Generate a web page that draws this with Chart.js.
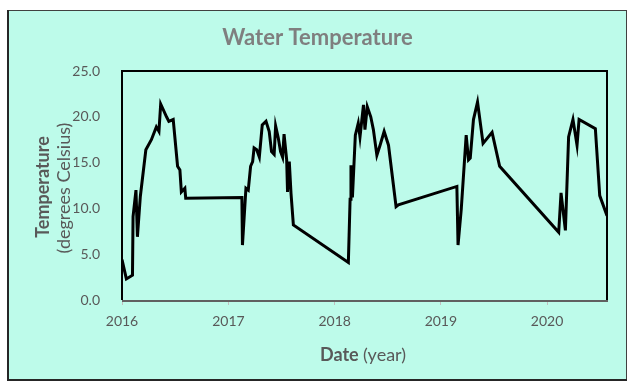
<!DOCTYPE html>
<html>
<head>
<meta charset="utf-8">
<script src="https://cdn.jsdelivr.net/npm/chart.js@4.4.1/dist/chart.umd.min.js"></script>
<style>
  html, body { margin: 0; padding: 0; background: #ffffff; }
  #wrap { position: relative; width: 635px; height: 389px; }
</style>
</head>
<body>
<div id="wrap"><canvas id="chart" width="635" height="389"></canvas></div>
<script>
// sample dates and water temperatures (degrees Celsius)
const dates = [
  '2016-01-01', '2016-01-16', '2016-02-06', '2016-02-08', '2016-02-18', '2016-02-23',
  '2016-03-04', '2016-03-23', '2016-04-11', '2016-04-28', '2016-05-07', '2016-05-13',
  '2016-06-02', '2016-06-10', '2016-06-25', '2016-07-10', '2016-07-18', '2016-07-23',
  '2016-08-04', '2016-08-07',
  '2017-02-16', '2017-02-18', '2017-03-02', '2017-03-10', '2017-03-18', '2017-03-25',
  '2017-03-30', '2017-04-08', '2017-04-17', '2017-04-27', '2017-05-10', '2017-05-21',
  '2017-05-29', '2017-06-07', '2017-06-12', '2017-06-21', '2017-06-29', '2017-07-06',
  '2017-07-11', '2017-07-20', '2017-07-23', '2017-07-29', '2017-08-04', '2017-08-12',
  '2018-02-17', '2018-02-23', '2018-02-26', '2018-03-03', '2018-03-13', '2018-03-23',
  '2018-03-29', '2018-04-10', '2018-04-15', '2018-04-23', '2018-05-05', '2018-05-14',
  '2018-05-26', '2018-06-06', '2018-06-20', '2018-07-05', '2018-07-31', '2018-08-08',
  '2019-02-25', '2019-03-01', '2019-03-12', '2019-03-29', '2019-04-06', '2019-04-12',
  '2019-04-23', '2019-05-07', '2019-05-26', '2019-06-26', '2019-07-22',
  '2020-02-10', '2020-02-18', '2020-03-04', '2020-03-15', '2020-03-30', '2020-04-13',
  '2020-04-20', '2020-06-15', '2020-06-30', '2020-07-25'
];
const temps = [
  4.4, 2.3, 2.7, 9.1, 12.0, 6.9,
  11.3, 16.4, 17.5, 18.9, 18.4, 21.4,
  20.0, 19.5, 19.7, 14.6, 14.2, 11.8,
  12.2, 11.1,
  11.2, 6.0, 12.2, 12.0, 14.6, 15.1,
  16.6, 16.4, 15.6, 19.1, 19.5, 18.4,
  16.2, 15.9, 19.0, 17.7, 16.2, 15.6,
  18.1, 15.3, 11.8, 15.1, 11.6, 8.2,
  4.1, 11.0, 14.7, 11.2, 18.0, 19.3,
  17.8, 21.3, 18.6, 21.1, 20.0, 18.6,
  15.8, 16.9, 18.4, 16.9, 10.2, 10.4,
  12.4, 6.0, 9.9, 18.0, 15.3, 15.5,
  19.7, 21.6, 17.1, 18.3, 14.6,
  7.4, 11.7, 7.6, 17.8, 19.7, 16.9,
  19.7, 18.7, 11.4, 9.2
];
const yearTicks = [2016, 2017, 2018, 2019, 2020];
const yTicks = [0, 5, 10, 15, 20, 25];

const DAY = 86400000;
const toDay = (s) => {
  const [y, m, d] = s.split('-').map(Number);
  return Date.UTC(y, m - 1, d) / DAY;
};
const points = dates.map((d, i) => ({ x: toDay(d), y: temps[i] }));

const MINT = '#bdfbea';
const GREY_TEXT = '#595959';
const FONT = 'Lato, "Open Sans", sans-serif';

const frame = {
  id: 'frame',
  beforeDraw(chart) {
    const ctx = chart.ctx;
    ctx.save();
    ctx.fillStyle = '#ffffff';
    ctx.fillRect(0, 0, chart.width, chart.height);
    ctx.fillStyle = MINT;
    ctx.fillRect(8, 10, 619, 370);
    ctx.strokeStyle = '#404040';
    ctx.lineWidth = 1;
    ctx.strokeRect(8.5, 10.5, 618, 369);
    ctx.strokeStyle = '#262626';
    ctx.lineWidth = 2;
    ctx.beginPath();
    ctx.moveTo(8, 10);
    ctx.lineTo(8, 380);
    ctx.lineTo(627, 380);
    ctx.stroke();
    ctx.restore();
  },
  afterDraw(chart) {
    const { ctx, chartArea: a } = chart;
    ctx.save();
    ctx.strokeStyle = '#000000';
    ctx.lineWidth = 2;
    ctx.beginPath();
    ctx.moveTo(a.left, a.bottom);
    ctx.lineTo(a.left, a.top);
    ctx.lineTo(a.right, a.top);
    ctx.lineTo(a.right, a.bottom);
    ctx.stroke();
    ctx.strokeStyle = '#606060';
    ctx.beginPath();
    ctx.moveTo(a.left, a.bottom + 1);
    ctx.lineTo(a.right + 1, a.bottom + 1);
    ctx.stroke();

    // axis titles
    ctx.fillStyle = GREY_TEXT;
    ctx.textAlign = 'center';
    ctx.textBaseline = 'middle';
    ctx.save();
    ctx.translate(43, 187);
    ctx.rotate(-Math.PI / 2);
    ctx.font = 'bold 18px ' + FONT;
    ctx.fillText('Temperature', 0, 0);
    ctx.restore();
    ctx.save();
    ctx.translate(64, 188);
    ctx.rotate(-Math.PI / 2);
    ctx.font = '18px ' + FONT;
    ctx.fillText('(degrees Celsius)', 0, 0);
    ctx.restore();

    ctx.textAlign = 'left';
    ctx.font = 'bold 18px ' + FONT;
    const w1 = ctx.measureText('Date ').width;
    ctx.font = '18px ' + FONT;
    const w2 = ctx.measureText('(year)').width;
    const x0 = 363 - (w1 + w2) / 2;
    ctx.font = 'bold 18px ' + FONT;
    ctx.fillText('Date ', x0, 355);
    ctx.font = '18px ' + FONT;
    ctx.fillText('(year)', x0 + w1, 355);
    ctx.restore();
  }
};

new Chart(document.getElementById('chart'), {
  type: 'line',
  data: {
    datasets: [
      {
        label: 'Water Temperature',
        data: points,
        borderColor: '#000000',
        borderWidth: 3,
        pointRadius: 0,
        tension: 0,
        fill: false,
      },
    ],
  },
  options: {
    responsive: false,
    animation: false,
    layout: { padding: { left: 28, right: 28, top: 0, bottom: 0 } },
    plugins: {
      legend: { display: false },
      tooltip: { enabled: false },
      title: {
        display: true,
        text: 'Water Temperature',
        color: '#7f7f7f',
        font: { family: FONT, size: 22, weight: 'bold' },
        padding: { top: 25, bottom: 19.6 },
      },
    },
    scales: {
      x: {
        type: 'linear',
        min: toDay(dates[0]),
        max: toDay(dates[dates.length - 1]),
        afterBuildTicks: (s) => {
          s.ticks = yearTicks.map((y) => ({ value: Date.UTC(y, 0, 1) / DAY }));
        },
        afterFit: (s) => { s.height = 89; },
        border: { display: false },
        grid: { drawOnChartArea: false, drawTicks: true, tickLength: 5, color: '#bfbfbf' },
        ticks: {
          color: GREY_TEXT,
          font: { family: FONT, size: 14 },
          padding: 8,
          maxRotation: 0,
          callback: (v) => new Date(v * DAY).getUTCFullYear(),
        },
      },
      y: {
        min: 0,
        max: 25,
        afterBuildTicks: (s) => {
          s.ticks = yTicks.map((v) => ({ value: v }));
        },
        afterFit: (s) => { s.width = 94; },
        border: { display: false },
        grid: { display: false },
        ticks: {
          color: GREY_TEXT,
          font: { family: FONT, size: 14 },
          padding: 14,
          callback: (v) => v.toFixed(1),
        },
      },
    },
  },
  plugins: [frame],
});
</script>
</body>
</html>
